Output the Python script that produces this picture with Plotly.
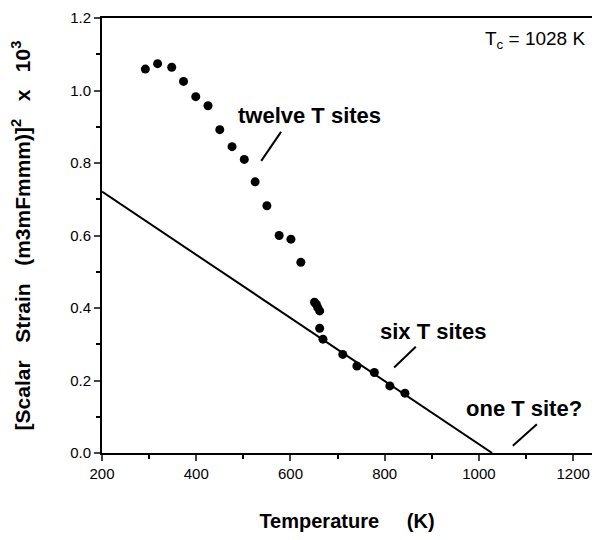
import plotly.graph_objects as go

# Measured data points (temperature K, scalar strain^2 x 10^3)
temp_k = [292, 318, 348, 373, 399, 425, 450, 476, 502, 525, 550, 576, 601, 622,
          651, 655, 658, 662, 662, 669, 711, 741, 778, 811, 843]
strain = [1.059, 1.074, 1.064, 1.025, 0.983, 0.958, 0.892, 0.845, 0.810, 0.748,
          0.682, 0.600, 0.590, 0.526, 0.416, 0.410, 0.401, 0.392, 0.344, 0.314,
          0.272, 0.240, 0.222, 0.185, 0.165]

# Landau fit line (linear to Tc)
fit_t = [200, 1028]
fit_s = [0.721, 0.0]

# Labels and their leader lines (data coords)
labels = ["twelve T sites", "six T sites", "one T site?"]
label_x = [640, 902, 1095]
label_y = [0.932, 0.335, 0.123]
leader_x0 = [538, 820, 1072]
leader_y0 = [0.806, 0.236, 0.020]
leader_x1 = [580, 866, 1123]
leader_y1 = [0.886, 0.293, 0.079]

x_ticks = [200, 400, 600, 800, 1000, 1200]
y_ticks = [0.0, 0.2, 0.4, 0.6, 0.8, 1.0, 1.2]

font_family = "Liberation Sans, Arial, sans-serif"

fig = go.Figure()
fig.add_trace(go.Scatter(x=fit_t, y=fit_s, mode="lines",
                         line=dict(color="black", width=2), showlegend=False,
                         cliponaxis=False))
fig.add_trace(go.Scatter(x=temp_k, y=strain, mode="markers",
                         marker=dict(color="black", size=9), showlegend=False))

for i, t in enumerate(labels):
    fig.add_annotation(x=label_x[i], y=label_y[i], text=t, showarrow=False,
                       xanchor="center", yanchor="middle",
                       font=dict(family=font_family, size=22, color="black",
                                 weight="bold"))
    fig.add_shape(type="line", x0=leader_x0[i], y0=leader_y0[i],
                  x1=leader_x1[i], y1=leader_y1[i],
                  line=dict(color="black", width=2))

fig.add_annotation(xref="paper", yref="paper", x=0.99, y=0.949,
                   text="T<sub>c</sub> = 1028 K", showarrow=False,
                   xanchor="right", yanchor="middle",
                   font=dict(family=font_family, size=19, color="black"))

nb = "\u00a0"
ytitle = ("[Scalar" + nb * 3 + "Strain" + nb * 3 + "(m3mFmmm)]<sup>2</sup>"
          + nb * 3 + "x" + nb * 3 + "10<sup>3</sup>")
xtitle = "Temperature" + nb * 5 + "(K)"

# The page body has an 8px margin, so the figure is shrunk to fit the window
fig.update_layout(
    width=584, height=524,
    margin=dict(l=94, r=0, t=10, b=79),
    paper_bgcolor="white", plot_bgcolor="white",
    font=dict(family=font_family, color="black"),
    xaxis=dict(range=[200, 1240], tickvals=x_ticks, ticks="outside",
               ticklen=6, tickwidth=2, showline=True, linecolor="black",
               linewidth=2, mirror=True, showgrid=False, zeroline=False,
               tickfont=dict(size=15),
               minor=dict(dtick=100, ticks="outside", ticklen=4, tickwidth=1.5,
                          tickcolor="black", showgrid=False),
               title=dict(text=xtitle, standoff=34,
                          font=dict(size=20, weight="bold"))),
    yaxis=dict(range=[0, 1.2], tickvals=y_ticks, tickformat=".1f",
               ticks="outside", ticklen=6, tickwidth=2, showline=True,
               linecolor="black", linewidth=2, mirror=False, showgrid=False,
               zeroline=False, tickfont=dict(size=15),
               minor=dict(dtick=0.1, ticks="outside", ticklen=4, tickwidth=1.5,
                          tickcolor="black", showgrid=False),
               title=dict(text=ytitle, standoff=34,
                          font=dict(size=21, weight="bold"))),
)

fig.write_html("out.html")
